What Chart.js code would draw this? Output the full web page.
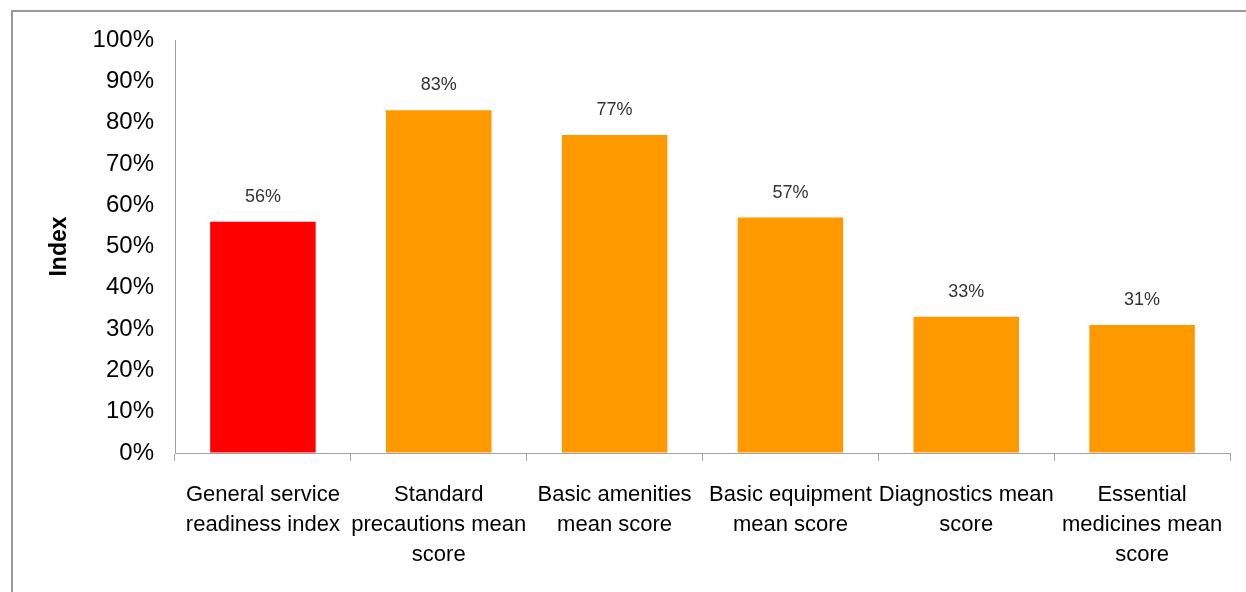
<!DOCTYPE html>
<html>
<head>
<meta charset="utf-8">
<script src="https://cdn.jsdelivr.net/npm/chart.js@4/dist/chart.umd.min.js"></script>
<style>
  html, body { margin: 0; padding: 0; background: #fff; overflow: hidden; }
  #frame { position: absolute; left: 11px; top: 10px; width: 1400px; height: 800px; border: 2px solid #999; box-sizing: border-box; }
  #wrap { position: absolute; left: 0; top: 0; width: 1246px; height: 592px; }
</style>
</head>
<body>
<div id="frame"></div>
<div id="wrap"><canvas id="readinessChart"></canvas></div>
<script>
// values
const categories = [
  ['General service', 'readiness index'],
  ['Standard', 'precautions mean', 'score'],
  ['Basic amenities', 'mean score'],
  ['Basic equipment', 'mean score'],
  ['Diagnostics mean', 'score'],
  ['Essential', 'medicines mean', 'score']
];
const scores = [56, 83, 77, 57, 33, 31];
const barColors = ['#ff0000', '#ff9900', '#ff9900', '#ff9900', '#ff9900', '#ff9900'];
const yTicks = [0, 10, 20, 30, 40, 50, 60, 70, 80, 90, 100];

const font = "'Liberation Sans', Arial, sans-serif";
const axisGray = '#a0a0a0';

// value labels above each bar
const barLabels = {
  id: 'barLabels',
  afterDatasetsDraw(chart) {
    const ctx = chart.ctx;
    const meta = chart.getDatasetMeta(0);
    ctx.save();
    ctx.font = '18px ' + font;
    ctx.fillStyle = '#333';
    ctx.textAlign = 'center';
    ctx.textBaseline = 'middle';
    meta.data.forEach((bar, i) => {
      ctx.fillText(scores[i] + '%', bar.x, bar.y - 25);
    });
    ctx.restore();
  }
};

const ctx = document.getElementById('readinessChart').getContext('2d');
const readinessChart = new Chart(ctx, {
  type: 'bar',
  data: {
    labels: categories,
    datasets: [{
      data: scores,
      backgroundColor: barColors,
      borderWidth: 0,
      barPercentage: 0.6,
      categoryPercentage: 1
    }]
  },
  options: {
    responsive: true,
    maintainAspectRatio: false,
    animation: false,
    layout: { padding: { left: 0, top: 40, right: 16, bottom: 0 } },
    plugins: {
      legend: { display: false },
      tooltip: { enabled: false }
    },
    scales: {
      x: {
        grid: { drawOnChartArea: false, drawTicks: true, tickLength: 8, color: axisGray },
        border: { color: axisGray, width: 1 },
        ticks: {
          autoSkip: false,
          maxRotation: 0,
          color: '#000',
          padding: 19,
          font: { family: font, size: 22, lineHeight: 1.36 }
        },
        afterFit(scale) { scale.height = 139; }
      },
      y: {
        min: 0,
        max: 100,
        afterBuildTicks(scale) { scale.ticks = yTicks.map(v => ({ value: v })); },
        grid: { drawOnChartArea: false, drawTicks: false },
        border: { color: axisGray, width: 1 },
        ticks: {
          color: '#000',
          padding: 21,
          font: { family: font, size: 24 },
          callback: v => v + '%'
        },
        title: {
          display: true,
          text: 'Index',
          color: '#000',
          font: { family: font, size: 23, weight: 'bold' },
          padding: { top: 46, bottom: 0 }
        },
        afterFit(scale) { scale.width = 175; }
      }
    }
  },
  plugins: [barLabels]
});
</script>
</body>
</html>
